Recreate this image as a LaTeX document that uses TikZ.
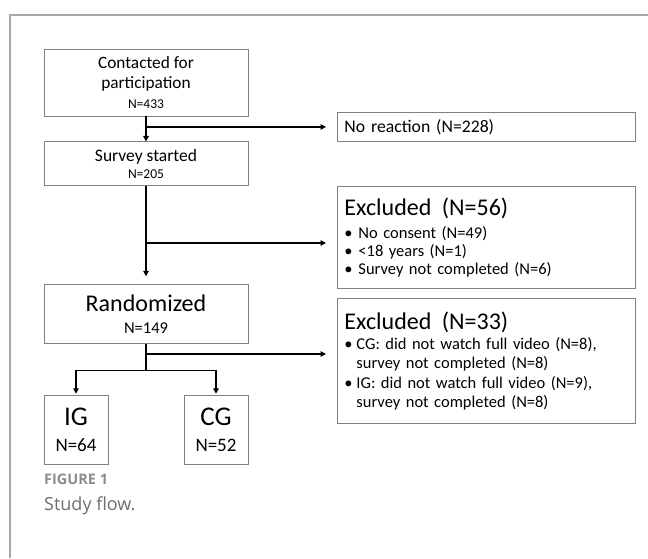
\documentclass[tikz,border=0pt]{standalone}
\usepackage{fontspec}
\setmainfont{Carlito}
\newfontfamily\capfont{Open Sans}
\usetikzlibrary{arrows.meta,positioning}
\definecolor{framegray}{HTML}{A8A8A8}
\definecolor{capgray}{HTML}{8C8C8C}
\definecolor{capdark}{HTML}{6E6E6E}
\newcommand{\bulA}{\makebox[14pt][l]{\textbullet}}
\newcommand{\bulB}{\makebox[12pt][l]{\textbullet}}

\begin{document}
\begin{tikzpicture}[
    x=1pt, y=-1pt,
    box/.style={rectangle, draw=black!50, line width=0.9pt, inner sep=0pt,
                align=center, minimum width=204pt},
    smallbox/.style={box, minimum width=64pt, minimum height=69pt},
    sidebox/.style={rectangle, draw=black!50, line width=0.9pt, anchor=north west,
                    text width=284pt, inner xsep=7pt, inner ysep=0pt, align=left},
    line/.style={line width=1.4pt},
    arr/.style={line, -{Triangle[length=5.5pt,width=5.5pt]}},
    >=Triangle
  ]
  \useasboundingbox (0,0) rectangle (648,558);

  %% Frame
  \draw[framegray, line width=1.3pt] (10,558) -- (10,15) -- (648,15);

  %% Main column
  \node[box, minimum height=67pt, font=\fontsize{17.3}{20}\selectfont] (contact) at (146,82.5)
       {Contacted for\\participation\\{\fontsize{13.5}{20}\selectfont N=433}};
  \node[box, minimum height=44pt, below=25pt of contact,
        font=\fontsize{17.5}{17}\selectfont] (survey)
       {Survey started\\{\fontsize{13.5}{17}\selectfont N=205}};
  \node[box, minimum height=59pt, below=98pt of survey,
        font=\fontsize{24}{22.5}\selectfont] (random)
       {Randomized\\{\fontsize{16.5}{22.5}\selectfont N=149}};

  %% Groups
  \node[smallbox, below right=51pt and 0pt of random.south west,
        font=\fontsize{27}{26}\selectfont] (ig)
       {IG\\{\fontsize{19}{26}\selectfont N=64}};
  \node[smallbox, below left=51pt and 0pt of random.south east,
        font=\fontsize{27}{26}\selectfont] (cg)
       {CG\\{\fontsize{19}{26}\selectfont N=52}};

  %% Side boxes
  \node[sidebox, minimum height=29pt, font=\fontsize{17.7}{20}\selectfont] (noreact)
       at (337,112) {No reaction (N=228)};
  \node[sidebox, minimum height=102pt, font=\fontsize{16.5}{18}\selectfont] (excl1)
       at (337,186)
       {{\fontsize{24}{18}\selectfont Excluded\hspace{5pt} (N=56)}\\[5pt]
        \bulA No consent (N=49)\\
        \bulA <18 years (N=1)\\
        \bulA Survey not completed (N=6)};
  \node[sidebox, minimum height=125pt, font=\fontsize{16.5}{19.5}\selectfont] (excl2)
       at (337,298)
       {{\fontsize{24}{19.5}\selectfont Excluded\hspace{5pt} (N=33)}\\[0.5pt]
        \bulB CG: did not watch full video (N=8),\\
        \hspace*{12pt}survey not completed (N=8)\\
        \bulB IG: did not watch full video (N=9),\\
        \hspace*{12pt}survey not completed (N=8)};

  %% Branch points
  \coordinate (b1) at (contact.south |- noreact.west);
  \coordinate (b2) at (146,243);
  \coordinate (b3) at (146,354);
  \coordinate[below=26pt of random.south] (split);

  %% Connectors
  \draw[arr] (contact) -- (survey);
  \draw[arr, shorten >=8pt] (survey) -- (random);
  \draw[arr, shorten >=11pt] (b1) -- (noreact.west);
  \draw[arr, shorten >=11pt] (b2) -- (b2 -| excl1.west);
  \draw[arr, shorten >=11pt] (b3) -- (b3 -| excl2.west);
  \draw[line] (random) -- (split);
  \draw[line] (split -| ig.north) -- (split -| cg.north);
  \draw[arr, shorten >=1.5pt] (split -| ig.north) -- (ig.north);
  \draw[arr, shorten >=1.5pt] (split -| cg.north) -- (cg.north);

  %% Caption
  \node[anchor=base west, inner sep=0pt, text=capgray,
        font=\capfont\bfseries\fontsize{14.5}{16}\selectfont] (fig) at (44,484) {FIGURE 1};
  \node[anchor=base west, inner sep=0pt, text=capdark,
        font=\capfont\fontsize{18}{20}\selectfont] (cap) at (44,510) {Study flow.};

\end{tikzpicture}
\end{document}
